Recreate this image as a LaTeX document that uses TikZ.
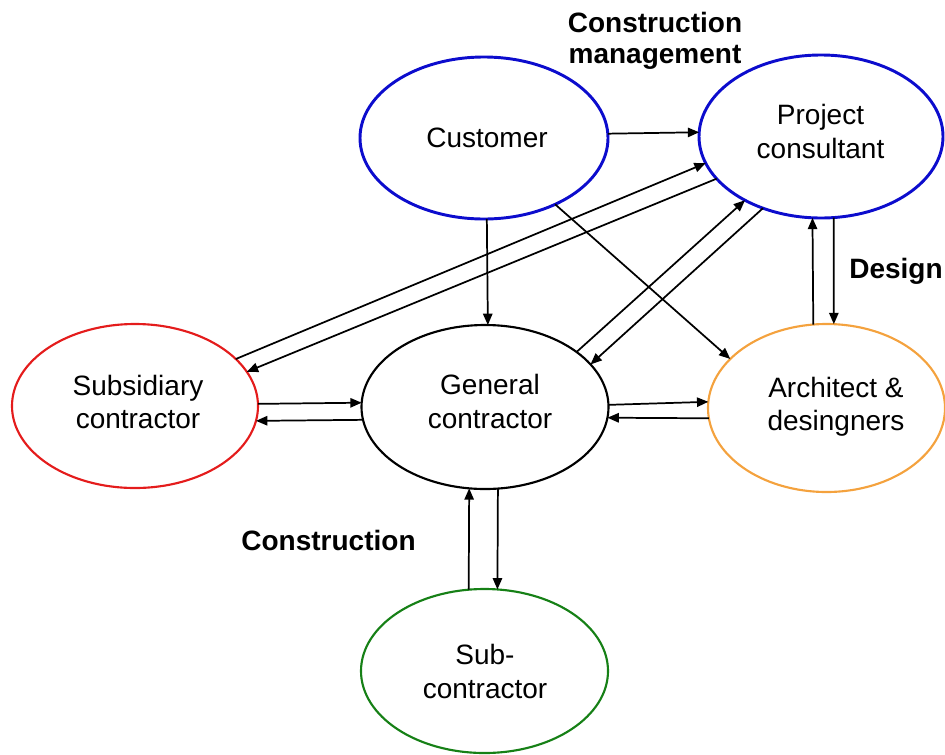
\documentclass[tikz,border=0pt]{standalone}
\usepackage{fontspec}
\setmainfont{Liberation Sans}
\usetikzlibrary{shapes.geometric,arrows.meta}

\definecolor{ovalblue}{RGB}{12,12,205}
\definecolor{ovalred}{RGB}{228,28,28}
\definecolor{ovalorange}{RGB}{244,162,62}
\definecolor{ovalgreen}{RGB}{22,128,22}

\begin{document}
\begin{tikzpicture}[x=0.75pt,y=-0.75pt,
  oval/.style={ellipse,draw,line width=1.6pt,inner sep=0pt,outer sep=0pt},
  txt/.style={align=center,inner sep=0pt,font=\fontsize{21}{25.1}\selectfont},
  tag/.style={align=center,inner sep=0pt,font=\bfseries\fontsize{21}{23.6}\selectfont},
  link/.style={-{Triangle[length=8.5pt,width=7pt]},line width=1.3pt}]
\useasboundingbox (0,0) rectangle (945,754);

% parties
\node[oval,draw=ovalblue,line width=2.2pt,minimum width=248*0.75pt,minimum height=162*0.75pt] (cust) at (484,138) {};
\node[oval,draw=ovalblue,line width=2.2pt,minimum width=244*0.75pt,minimum height=163*0.75pt] (pc) at (821,136.5) {};
\node[oval,draw=ovalred,minimum width=246*0.75pt,minimum height=164*0.75pt] (subs) at (135,406) {};
\node[oval,draw=black,minimum width=247*0.75pt,minimum height=164*0.75pt] (gen) at (485,407) {};
\node[oval,draw=ovalorange,minimum width=237*0.75pt,minimum height=168*0.75pt] (arch) at (826.5,408) {};
\node[oval,draw=ovalgreen,minimum width=247*0.75pt,minimum height=164*0.75pt] (subc) at (484.5,671) {};

% names of the parties
\node[txt] (custtext) at (487,138) {Customer};
\node[txt] (pctext) at (820.5,131.5) {Project\\consultant};
\node[txt] (substext) at (138,402) {Subsidiary\\contractor};
\node[txt] (gentext) at (490,401.5) {General\\contractor};
\node[txt] (archtext) at (836,406.5) {Architect \&\\desingners};
\node[txt] (subctext) at (485,671.5) {Sub-\\contractor};

% phase labels
\node[tag] (cmtag) at (655,41) {Construction\\management};
\node[tag] (designtag) at (896,271) {Design};
\node[tag] (constag) at (328.5,540) {Construction};

% relations
\draw[link] (cust.2.3) -- (pc.178.1);
\draw[link] (cust.-88) -- (gen.88.6);
\draw[link] (cust.-43.4) -- (arch.153.4);
\draw[link] (gen.31.2) -- (pc.220.5);
\draw[link] (pc.231.4) -- (gen.22.9);
\draw[link] (subs.25.7) -- (pc.193.1);
\draw[link] (pc.202) -- (subs.17.8);
\draw[link] (subs.1.4) -- (gen.178.2);
\draw[link] (gen.186.8) -- (subs.-7.3);
\draw[link] (gen.1.9) -- (arch.177.6);
\draw[link] (arch.185.3) -- (gen.-5.6);
\draw[link] (arch.99.2) -- (pc.264.6);
\draw[link] (pc.-81.3) -- (arch.85.3);
\draw[link] (subc.101) -- (gen.259);
\draw[link] (gen.-81.7) -- (subc.81.7);
\end{tikzpicture}
\end{document}
